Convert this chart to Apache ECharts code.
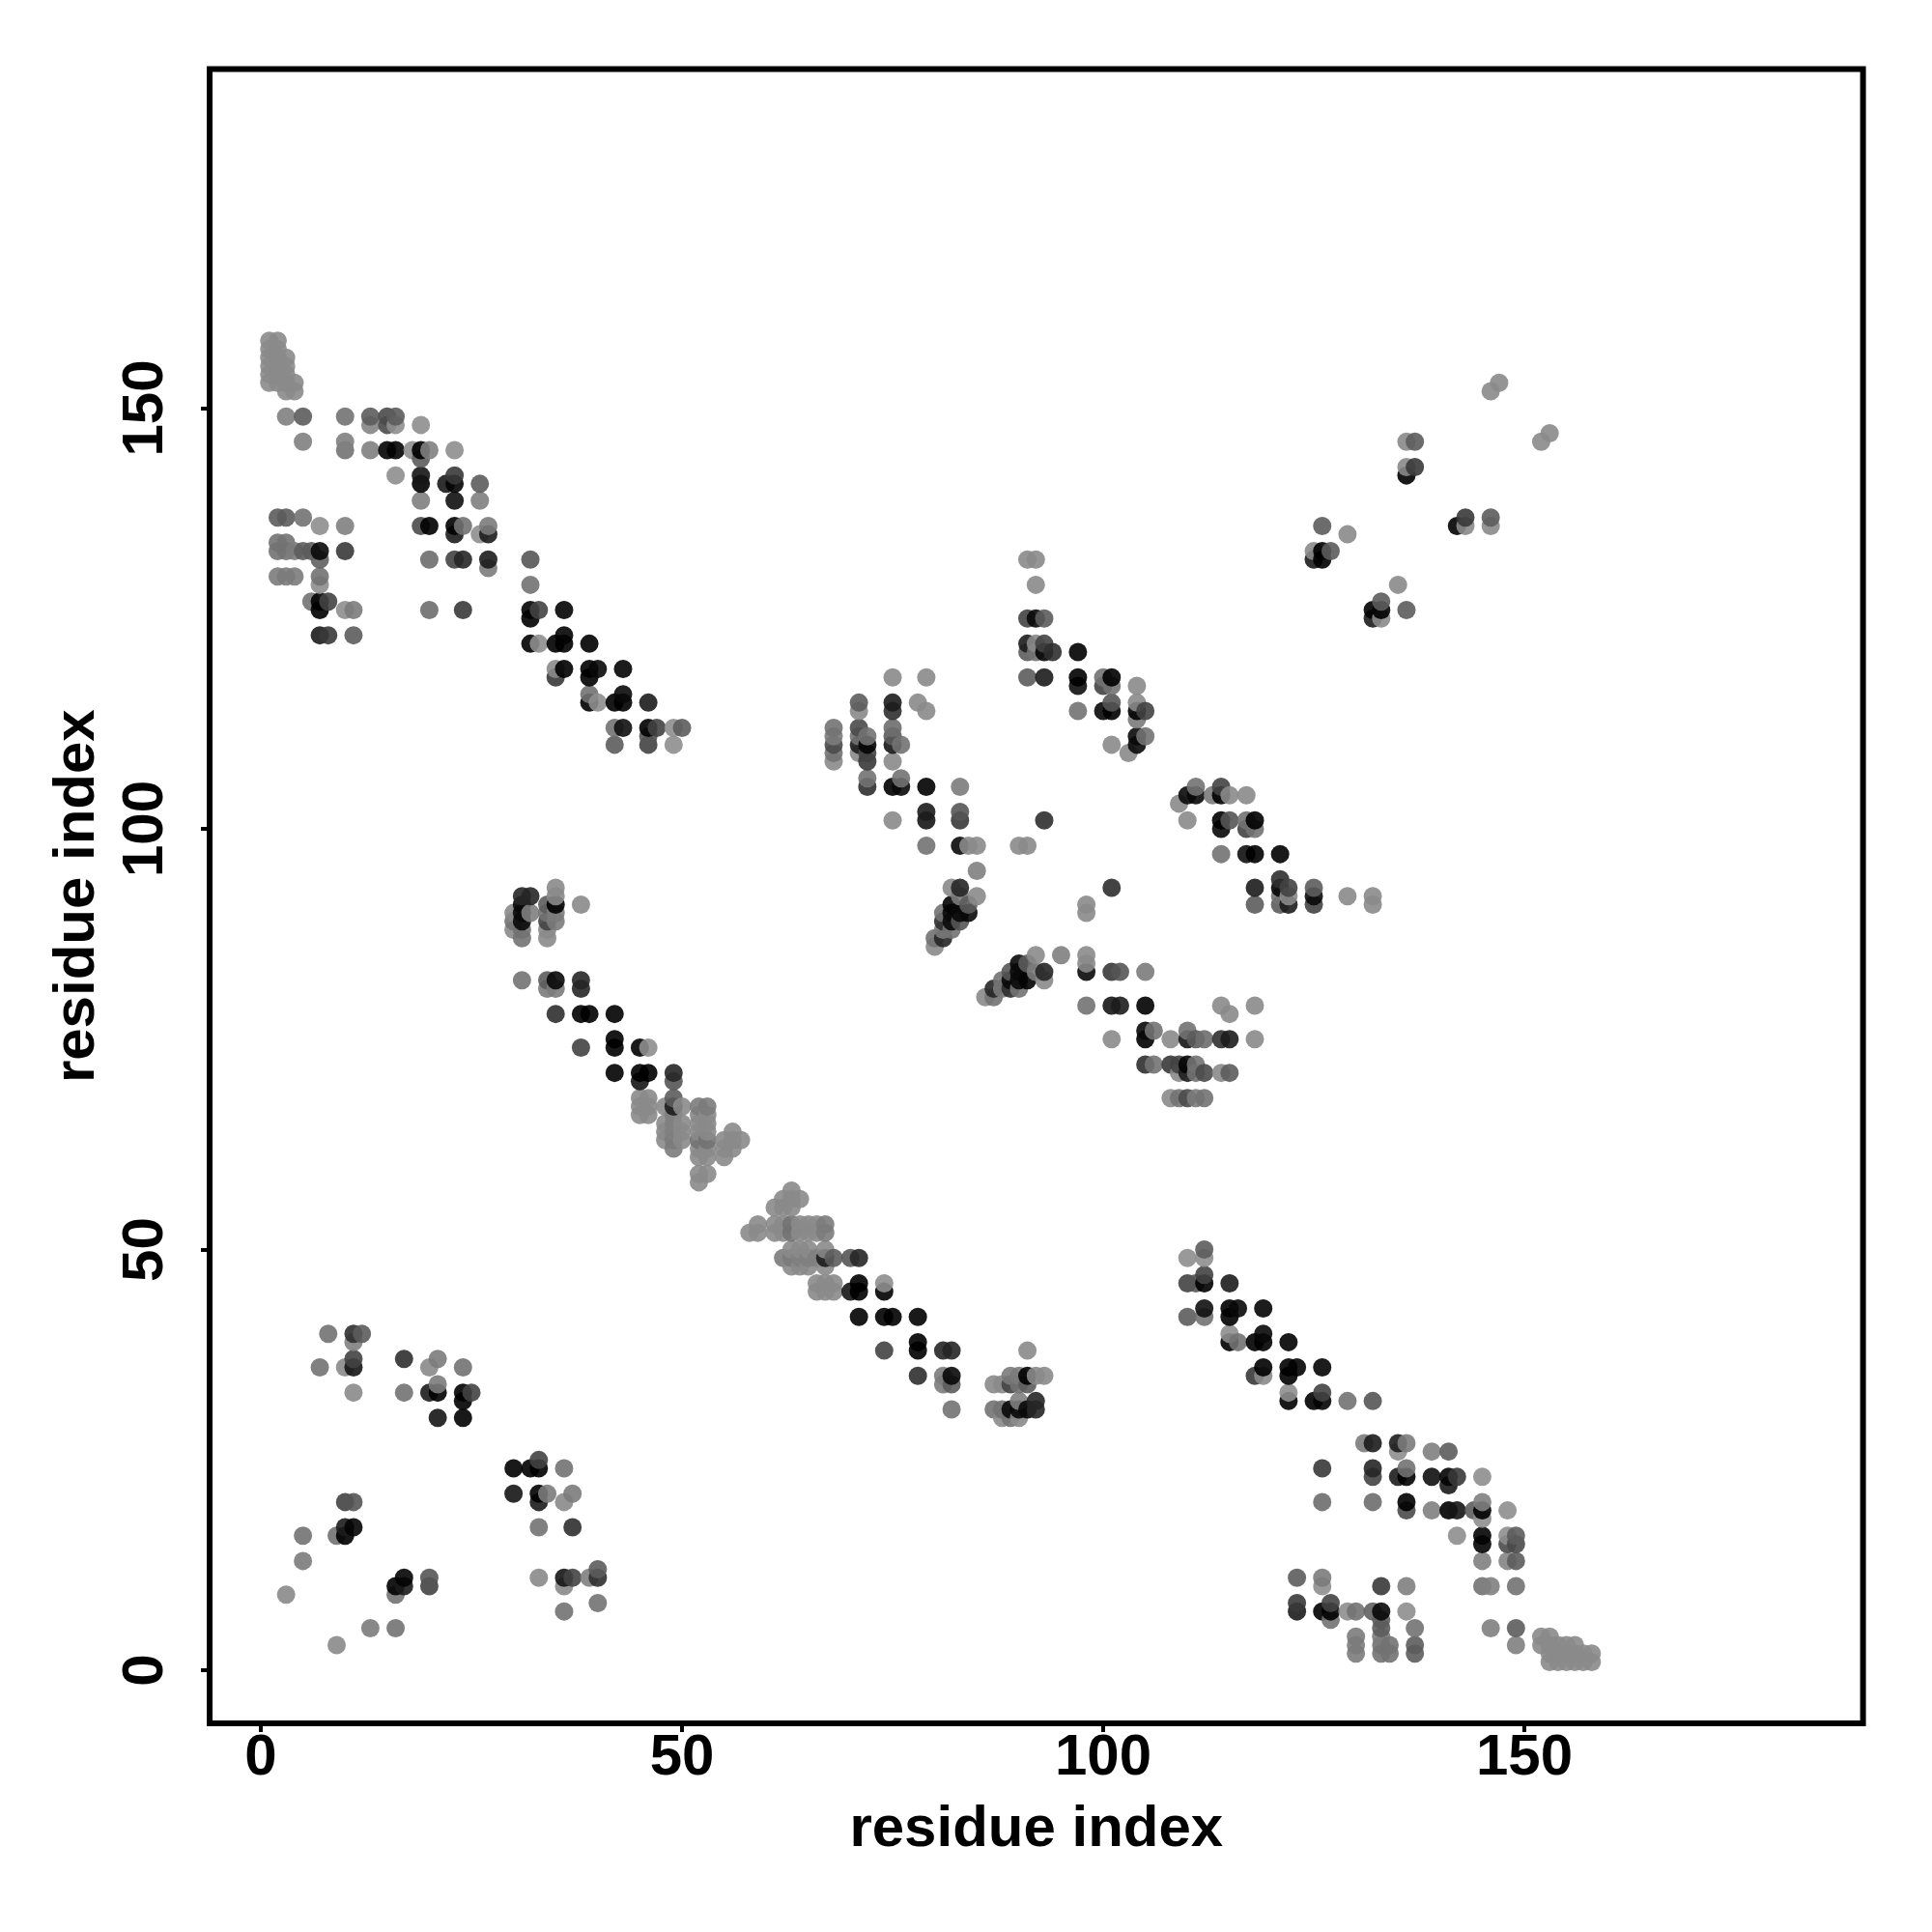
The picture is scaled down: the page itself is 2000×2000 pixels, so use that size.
<!DOCTYPE html>
<html><head><meta charset="utf-8">
<style>html,body{margin:0;padding:0;background:#fff}#c{width:2000px;height:2000px}</style>
<script src="https://cdn.jsdelivr.net/npm/echarts@6/dist/echarts.min.js"></script>
</head><body><div id="c"></div>
<script>
// Contact map values: [residue i, residue j, apparent grey level], with i < j.
const tickValues = [0, 50, 100, 150];
const axisTitle = "residue index";
const terminusContacts = [
 [1,153,150],[1,154,150],[1,155,150],[1,156,150],[1,157,150],[1,158,150],
 [2,153,150],[2,154,150],[2,155,150],[2,156,150],[2,157,150],[2,158,150],
 [3,152,150],[3,153,150],[3,154,150],[3,155,150],[3,156,150],[4,152,150],[4,153,150]
];
const upperStrandA = [
 [3,149,140],[5,149,108],[10,149,128],[13,149,108],[15,149,92],[16,149,108],
 [13,148,144],[15,148,92],[16,148,153],[19,148,153],[5,146,140],[10,146,140],
 [10,145,128],[13,145,140],[15,145,28],[16,145,28],[18,145,153],[19,145,10],[20,145,140],[23,145,153],
 [19,144,108],[16,142,153],[19,142,44],[23,142,76],
 [19,141,16],[22,141,48],[23,141,28],[26,141,108],[19,139,140],[23,139,40],[26,139,140],
 [19,136,92],[20,136,20],[23,136,10],[24,136,128],[27,136,136],[23,135,51],[26,135,153],[27,135,51],
 [20,132,124],[23,132,85],[24,132,60],[27,132,51],[32,132,102],[27,131,136],[32,129,128]
];
const upperLeftBlock = [
 [2,137,108],[3,137,108],[5,137,128],[7,136,153],[10,136,140],[2,134,128],[3,134,128],
 [2,133,128],[3,133,128],[4,133,136],[5,133,108],[6,133,108],[7,133,34],[10,133,76],[7,132,112],
 [2,130,136],[3,130,136],[4,130,136],[7,130,128],[7,129,153],
 [6,127,128],[7,127,10],[8,127,85],[7,126,10],[10,126,153],[11,126,136],[20,126,124],[24,126,76],
 [7,123,51],[8,123,76],[11,123,108]
];
const upperStrandB = [
 [32,126,28],[33,126,85],[36,126,28],[32,125,20],[36,123,28],[32,122,10],[33,122,153],[35,122,10],[36,122,10],[39,122,16],
 [35,119,150],[36,119,10],[39,119,10],[40,119,34],[43,119,28],[35,118,76],[39,118,10],
 [39,116,128],[43,116,34],[39,115,10],[40,115,153],[42,115,10],[43,115,10],[46,115,51],
 [42,112,128],[43,112,40],[46,112,20],[47,112,85],[49,112,153],[50,112,108],[46,111,102],[42,110,108],[46,110,85],[49,110,153]
];
const middleBlock = [
 [35,93,150],[35,92,150],[35,91,10],[38,91,150],[31,92,60],[32,92,60],[31,91,34],[32,90,140],[30,90,150],[31,90,34],
 [31,89,34],[30,89,128],[30,88,150],[31,88,128],[31,87,128],[34,91,108],[34,90,128],[34,89,85],[35,90,136],[35,89,136],[34,88,150],[34,87,150]
];
const middleStrand = [
 [31,82,128],[34,82,108],[35,82,34],[38,82,60],[34,81,136],[35,81,136],[38,81,60],
 [35,78,68],[38,78,10],[39,78,17],[42,78,10],[42,75,10],[38,74,85],[42,74,10],[45,74,10],[46,74,153],
 [42,71,26],[45,71,17],[46,71,17],[49,71,60],[45,70,44],[49,70,102]
];
const middleLightBand = [
 [45,68,150],[46,68,150],[49,68,108],[45,67,150],[46,67,150],[48,67,150],[49,67,51],[50,67,150],[45,66,150],[46,66,150],
 [48,65,150],[48,64,150],[48,63,150],[49,66,140],[49,65,140],[49,64,140],[49,63,136],[49,62,136],
 [50,65,150],[50,64,150],[50,63,150],
 [52,67,136],[52,66,150],[52,65,150],[52,64,150],[52,63,128],[52,62,150],[52,61,150],
 [53,67,136],[53,66,150],[53,65,150],[53,64,150],[53,63,128],[53,62,150],[53,61,150],
 [52,59,150],[52,58,150],[53,59,150],[55,63,150],[55,62,150],[55,61,150],[56,64,150],[56,63,150],[56,62,150],[57,63,150]
];
const sheetCluster = [
 [75,118,150],[79,118,150],[71,115,108],[71,114,150],[75,115,51],[75,114,68],[78,115,150],[79,114,150],
 [68,112,128],[68,111,136],[68,110,92],[68,109,128],[68,108,150],
 [71,112,92],[71,111,128],[71,110,51],[71,109,150],[72,111,128],[72,110,28],[72,109,85],[72,108,76],
 [75,112,124],[75,111,108],[75,110,44],[76,110,128],[75,108,150],
 [72,106,128],[72,105,68],[75,105,20],[76,106,128],[76,105,34],[79,105,10],[83,105,136],
 [75,101,150],[79,102,51],[79,101,44],[83,102,102],[83,101,76],
 [79,98,128],[83,98,34],[84,98,150],[85,98,150],[90,98,150],[91,98,150],[93,101,68],[85,95,140]
];
const nearDiagonal = [
 [85,92,150],[82,93,150],[83,93,60],[83,92,136],[84,91,108],[84,90,34],[83,90,34],[82,91,28],[82,90,34],
 [81,90,128],[81,89,68],[82,89,34],[83,89,102],[81,88,136],[82,88,128],[80,87,128],[81,87,60],[80,86,150]
];
const upperRightBlock = [
 [91,132,150],[92,132,150],[92,129,150],[91,125,85],[92,125,34],[93,125,108],
 [91,122,51],[92,122,150],[93,122,85],[91,121,108],[92,121,128],[93,121,28],[94,121,68],[97,121,20],
 [91,118,108],[93,118,51],[97,118,10],[97,117,40],[100,118,128],[101,118,17],[100,117,85],[101,117,128],[104,117,150],
 [97,114,128],[100,114,34],[101,114,10],[101,115,102],[104,115,150],[104,114,10],[105,114,85],[104,113,136],
 [104,111,34],[104,110,34],[105,111,128],[101,110,150],[103,109,150]
];
const farContacts = [
 [146,152,150],[147,153,150],[136,146,150],[137,146,108],[136,143,150],[137,143,76],[136,142,10],
 [125,133,150],[125,132,51],[126,133,20],[126,132,20],[127,133,108],[126,136,108],[129,135,150]
];
const lowerLeftContacts = [
 [3,9,150],[5,13,136],[5,16,128],[9,16,128],[10,16,10],[10,17,51],[11,17,28],[10,20,85],[11,20,102],
 [8,40,128],[11,40,68],[12,40,108],[11,39,140],[7,36,128],[10,36,150],[11,37,85],[11,36,44],[11,33,150],
 [17,37,68],[21,37,136],[20,36,150],[24,36,128],[17,33,128],[20,33,51],[21,33,10],[21,34,136],
 [24,33,10],[25,33,85],[24,32,17],[21,30,44],[24,30,10]
];

const contacts = [terminusContacts, upperStrandA, upperLeftBlock, upperStrandB, middleBlock, middleStrand,
  middleLightBand, sheetCluster, nearDiagonal, upperRightBlock, farContacts, lowerLeftContacts].flat();
const ALPHA = 0.9;
const marks = contacts.flatMap(([i, j, g]) => [[i, j, g], [j, i, g]])
  .sort((a, b) => a[0] - b[0] || a[1] - b[1])
  .map(([x, y, g]) => {
    const c = Math.max(0, Math.round((g - (1 - ALPHA) * 255) / ALPHA));
    return { value: [x, y], itemStyle: { color: `rgba(${c},${c},${c},${ALPHA})`, opacity: 1 } };
  });

const font = { fontFamily: "Liberation Sans", fontWeight: "bold", fontSize: 60, color: "#000" };
const baseAxis = {
  type: "value", name: axisTitle, nameLocation: "middle", nameTextStyle: font,
  splitLine: { show: false }, axisLine: { show: false, onZero: false },
  axisTick: { show: true, length: 9, customValues: tickValues, lineStyle: { color: "#000", width: 4 } }
};
const chart = echarts.init(document.getElementById("c"), null, { renderer: "canvas" });
chart.setOption({
  animation: false, backgroundColor: "#fff",
  grid: { left: 217, right: 71.4, top: 71.4, bottom: 216, show: true, borderColor: "#000", borderWidth: 6, backgroundColor: "transparent" },
  xAxis: Object.assign({}, baseAxis, { min: -6.08, max: 190.2, nameGap: 80,
    axisLabel: Object.assign({ customValues: tickValues, margin: 6 }, font) }),
  yAxis: Object.assign({}, baseAxis, { min: -6.3, max: 190.3, nameGap: 107,
    axisLabel: Object.assign({ customValues: tickValues, margin: 36, rotate: 90 }, font) }),
  series: [{ type: "scatter", data: marks, symbol: "circle", symbolSize: 19, itemStyle: { opacity: 1 } }]
});
</script></body></html>
